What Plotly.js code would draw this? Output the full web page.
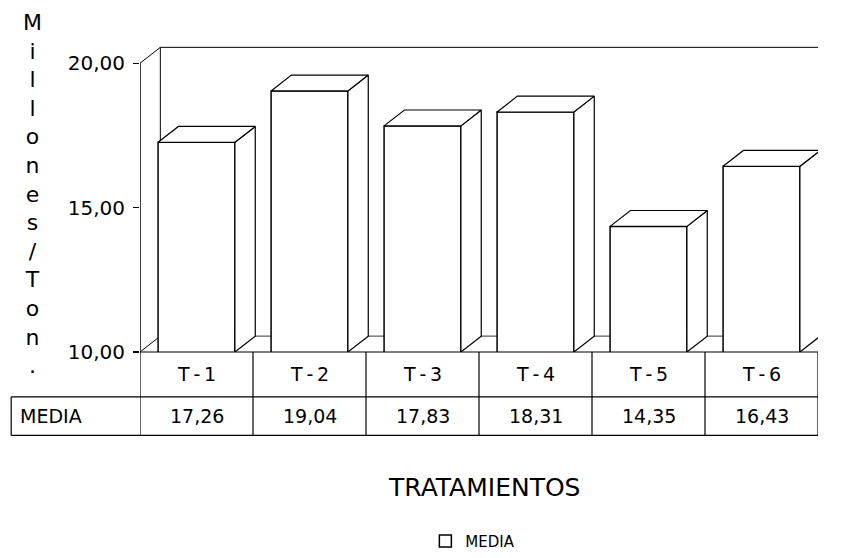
<!DOCTYPE html>
<html><head><meta charset="utf-8">
<script src="https://cdn.plot.ly/plotly-3.0.1.min.js"></script>
<style>body{margin:0;background:#fff}#c{width:852px;height:558px}</style>
</head><body><div id="c"></div>
<script>
const categories = ['T-1','T-2','T-3','T-4','T-5','T-6'];
const media = [17.26, 19.04, 17.83, 18.31, 14.35, 16.43];
const seriesName = 'MEDIA';
const yTicks = [10, 15, 20];
const yTickText = ['10,00', '15,00', '20,00'];

const FONT = 'DejaVu Sans, Liberation Sans, Arial, sans-serif';
const base = 10, barW = 0.68, ddx = 0.18, ddy = 0.55;
const xs = categories.map((c, i) => i);

const traces = [];
// 3D faces (top and side) derived from the data
categories.forEach((c, i) => {
  const x0 = i - barW / 2, x1 = i + barW / 2, v = media[i];
  traces.push({type:'scatter', mode:'lines', x:[x1, x1+ddx, x1+ddx, x1, x1], y:[v, v+ddy, base+ddy, base, v],
    fill:'toself', fillcolor:'#fff', line:{color:'#000', width:1.2}, showlegend:false, hoverinfo:'skip'});
  traces.push({type:'scatter', mode:'lines', x:[x0, x0+ddx, x1+ddx, x1, x0], y:[v, v+ddy, v+ddy, v, v],
    fill:'toself', fillcolor:'#fff', line:{color:'#000', width:1.2}, showlegend:false, hoverinfo:'skip'});
});
traces.push({type:'bar', x:xs, y:media, name:seriesName, width:barW,
  marker:{color:'#fff', line:{color:'#000', width:1.5}}, showlegend:true});

const shapes = [];
const line = (x0,y0,x1,y1,xr,yr,w) => shapes.push({type:'line', xref:xr, yref:yr, x0, y0, x1, y1, layer:'below', line:{color:'#000', width:w||1}});
// y axis line (10..20) and back wall
shapes.push({type:'line', xref:'x', yref:'y', x0:-0.5, x1:-0.5, y0:base, y1:20, line:{color:'#000', width:1.5}});
line(-0.5, 20, -0.5+ddx, 20+ddy, 'x', 'y');
line(-0.5+ddx, 20+ddy, 5.5+ddx, 20+ddy, 'x', 'y');
line(-0.5+ddx, base+ddy, -0.5+ddx, 20+ddy, 'x', 'y');
line(-0.5, base, -0.5+ddx, base+ddy, 'x', 'y');
line(-0.5+ddx, base+ddy, 5.5+ddx, base+ddy, 'x', 'y', 0.8);
// data table
const rTop = 0, rMid = -0.145, rBot = -0.27, mediaLeft = -0.19;
shapes.push({type:'line', xref:'x', yref:'paper', x0:-0.5, x1:5.5, y0:rTop, y1:rTop, line:{color:'#000', width:1.2}});
shapes.push({type:'line', xref:'paper', yref:'paper', x0:mediaLeft, x1:1, y0:rMid, y1:rMid, line:{color:'#000', width:1.2}});
shapes.push({type:'line', xref:'paper', yref:'paper', x0:mediaLeft, x1:1, y0:rBot, y1:rBot, line:{color:'#000', width:1.2}});
shapes.push({type:'line', xref:'paper', yref:'paper', x0:mediaLeft, x1:mediaLeft, y0:rMid, y1:rBot, line:{color:'#000', width:1.2}});
for (let k = 0; k <= categories.length; k++) {
  shapes.push({type:'line', xref:'x', yref:'paper', x0:k-0.5, x1:k-0.5, y0:rTop, y1:rBot, line:{color:'#000', width:1.2}});
}

const annotations = [];
const cellFont = {family:FONT, size:19, color:'#000'};
categories.forEach((c, i) => {
  annotations.push({xref:'x', yref:'paper', x:i, y:(rTop+rMid)/2, yanchor:'middle', text:c.replace('-', '\u2009-\u2009'), showarrow:false, font:cellFont});
  annotations.push({xref:'x', yref:'paper', x:i, y:(rMid+rBot)/2, yanchor:'middle', text:media[i].toFixed(2).replace('.', ','), showarrow:false, font:cellFont});
});
annotations.push({xref:'paper', yref:'paper', x:mediaLeft+0.01, xanchor:'left', y:(rMid+rBot)/2, yanchor:'middle', text:seriesName, showarrow:false, font:cellFont});
annotations.push({xref:'paper', yref:'paper', x:0.507, y:-0.44, yanchor:'middle', text:'TRATAMIENTOS', showarrow:false, font:{family:FONT, size:25, color:'#000'}});
annotations.push({xref:'paper', yref:'paper', x:-0.175, y:0.51, yanchor:'middle', text:'M<br>i<br>l<br>l<br>o<br>n<br>e<br>s<br>/<br>T<br>o<br>n<br>.', showarrow:false, font:{family:FONT, size:22, color:'#000'}});

const layout = {
  width:852, height:558,
  margin:{l:140, r:34, t:43, b:206},
  paper_bgcolor:'#fff', plot_bgcolor:'rgba(0,0,0,0)',
  font:{family:FONT, color:'#000'},
  xaxis:{range:[-0.5, 5.5], showticklabels:false, showgrid:false, zeroline:false, showline:false, fixedrange:true},
  yaxis:{range:[10, 20.7], tickvals:yTicks, ticktext:yTickText, ticks:'outside', ticklen:6, tickcolor:'#000', tickwidth:1.2,
         showline:false, showgrid:false, zeroline:false, tickfont:{size:20, family:FONT, color:'#000'}, ticklabelstandoff:4},
  showlegend:true,
  legend:{orientation:'h', xref:'container', yref:'container', x:0.555, xanchor:'center', y:0.03, yanchor:'middle', font:{size:15, family:FONT, color:'#000'}},
  shapes, annotations
};
Plotly.newPlot('c', traces, layout, {displayModeBar:false, staticPlot:true});
</script></body></html>
